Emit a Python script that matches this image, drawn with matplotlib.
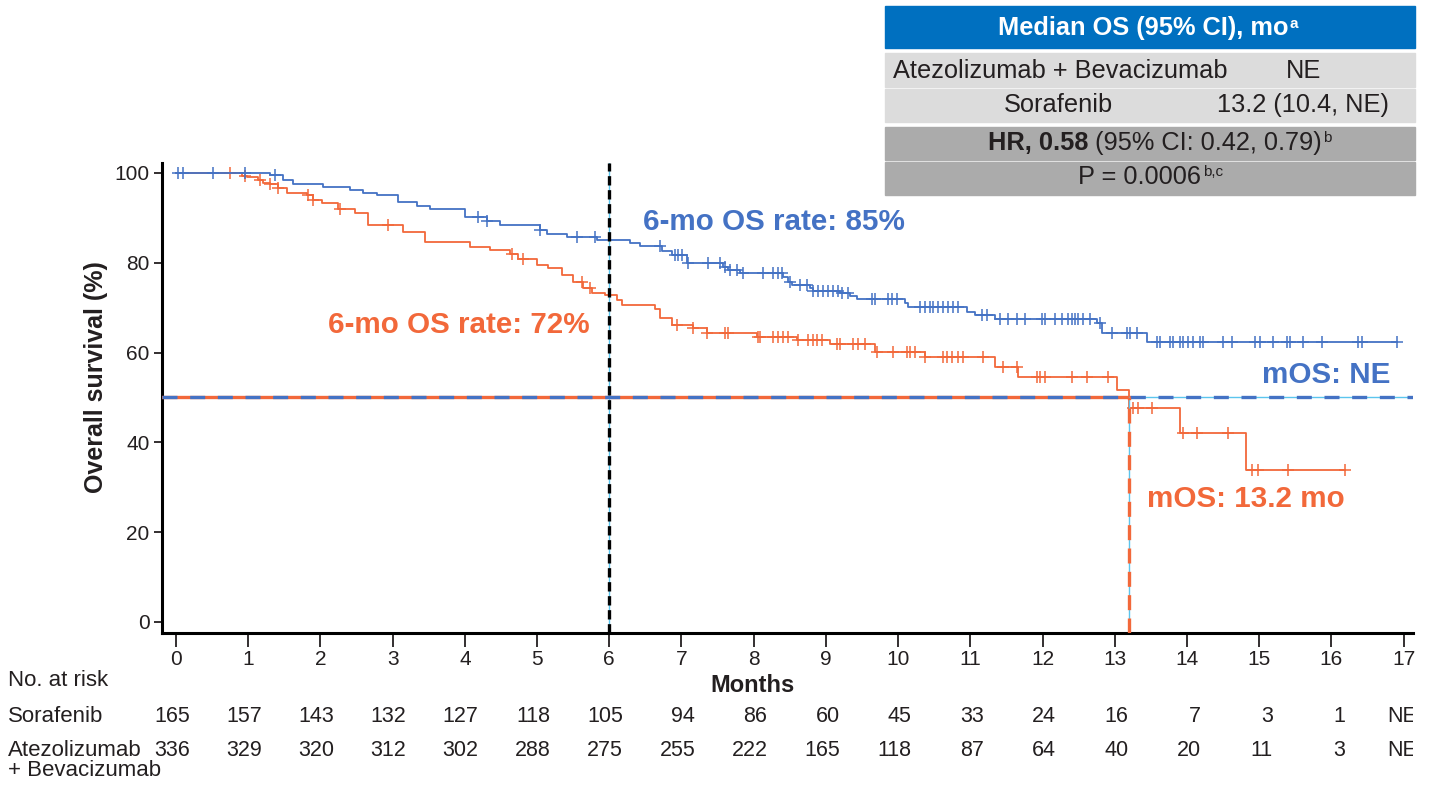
import matplotlib
matplotlib.use('Agg')
import matplotlib.pyplot as plt
from matplotlib.patches import Rectangle
from matplotlib.transforms import blended_transform_factory, Bbox
import numpy as np

plt.rcParams['font.family'] = ['Liberation Sans Narrow', 'Liberation Sans', 'DejaVu Sans']

# Kaplan-Meier steps (months, % surviving)
atezo_t = [0, 1.30, 1.48, 1.62, 2.04, 2.41, 2.59, 2.78, 3.07, 3.34, 3.52, 4.00, 4.31, 4.49,
           5.04, 5.14, 5.42, 5.83, 6.29, 6.43, 6.73, 6.87, 7.08, 7.58, 7.65, 7.81, 8.41, 8.48,
           8.53, 8.78, 8.82, 9.20, 9.34, 9.43, 10.10, 10.14, 10.96, 11.07, 11.34, 12.76, 12.83, 13.45]
atezo_s = [100, 99.5, 98.4, 97.6, 96.9, 96.2, 95.5, 95.1, 93.5, 92.6, 92.0, 90.2, 89.3, 88.4,
           87.3, 86.4, 85.7, 85.1, 84.4, 83.7, 82.6, 81.7, 80.0, 79.1, 78.4, 77.7, 76.8, 75.7,
           75.1, 74.4, 73.7, 73.3, 72.6, 71.9, 71.0, 70.2, 69.0, 68.4, 67.4, 66.6, 64.4, 62.4]
atezo_cens = [0.03, 0.10, 0.51, 0.96, 1.37, 4.18, 4.31, 5.04, 5.55, 5.80,
              6.70, 6.91, 6.95, 7.01, 7.09, 7.37, 7.53, 7.60, 7.67, 7.77, 7.85, 8.13, 8.27, 8.34,
              8.39, 8.50, 8.64, 8.74, 8.82, 8.89, 8.96, 9.03, 9.10, 9.17, 9.22, 9.31, 9.64, 9.68,
              9.86, 9.92, 9.99, 10.30, 10.37, 10.44, 10.48, 10.55, 10.62, 10.69, 10.76, 10.83,
              11.16, 11.23, 11.41, 11.52, 11.65, 11.76, 11.99, 12.04, 12.17, 12.27, 12.35, 12.41,
              12.45, 12.49, 12.56, 12.66, 12.80, 12.96, 13.17, 13.21, 13.31, 13.59, 13.63, 13.77,
              13.81, 13.91, 13.95, 14.02, 14.09, 14.18, 14.22, 14.50, 14.63, 14.94, 15.01, 15.19,
              15.39, 15.43, 15.61, 15.87, 16.37, 16.43, 16.91]

sora_t = [0, 0.91, 0.98, 1.14, 1.20, 1.30, 1.41, 1.54, 1.81, 1.90, 2.02, 2.24, 2.48, 2.66,
          3.14, 3.45, 4.07, 4.35, 4.63, 4.74, 5.00, 5.15, 5.35, 5.50, 5.64, 5.76, 5.94, 6.11,
          6.18, 6.63, 6.70, 6.87, 7.16, 7.35, 8.05, 8.60, 9.06, 9.68, 10.37, 11.34, 11.66,
          13.03, 13.20, 13.91, 14.82]
sora_s = [100, 99.4, 99.0, 98.4, 97.8, 97.5, 96.6, 95.5, 95.1, 94.0, 93.3, 92.0, 91.1, 88.4,
          86.9, 84.6, 83.5, 82.9, 82.0, 80.8, 79.5, 78.8, 77.3, 75.7, 74.4, 73.3, 72.8, 71.7,
          70.6, 69.7, 67.7, 66.1, 65.5, 64.4, 63.5, 62.8, 61.9, 60.1, 59.0, 56.8, 54.6,
          51.7, 47.7, 42.1, 33.9]
sora_cens = [0.75, 0.96, 1.16, 1.30, 1.41, 1.83, 1.90, 2.27, 2.94, 4.65, 4.81, 5.62, 5.73,
             6.94, 7.16, 7.35, 7.60, 7.65, 8.06, 8.09, 8.27, 8.34, 8.41, 8.48, 8.61, 8.75, 8.82,
             8.88, 8.95, 9.16, 9.20, 9.38, 9.45, 9.54, 9.71, 9.93, 10.12, 10.17, 10.24, 10.37,
             10.62, 10.68, 10.75, 10.83, 10.90, 11.18, 11.45, 11.65, 11.93, 11.97, 12.04, 12.41,
             12.62, 12.91, 13.25, 13.32, 13.52, 13.95, 14.14, 14.57, 14.90, 14.99, 15.40, 16.19]

landmark = 6
median_level = 50
median_sora = 13.2

months = list(range(18))
risk_sora = ['165', '157', '143', '132', '127', '118', '105', '94', '86', '60', '45', '33',
             '24', '16', '7', '3', '1', 'NE']
risk_atezo = ['336', '329', '320', '312', '302', '288', '275', '255', '222', '165', '118', '87',
              '64', '40', '20', '11', '3', 'NE']

BLUE = '#4472C4'
ORANGE = '#F2683A'
LIGHTBLUE = '#5BC5EE'
INK = '#231F20'
W, H = 1433, 785


def fx(px):
    return px / W


def fy(py):
    return 1 - py / H


fig = plt.figure(figsize=(W / 100, H / 100), dpi=100)
ax = fig.add_axes([fx(162), fy(633), (1413 - 162) / W, (633 - 163) / H])
ax.patch.set_visible(False)
ax.set_xlim(-0.194, 17.13)
ax.set_ylim(-2.45, 102.2)


def km_line(t, s, cens, color):
    t = np.asarray(t)
    s = np.asarray(s)
    cens = np.asarray(cens)
    tt = np.append(t, cens.max())
    ss = np.append(s, s[-1])
    ax.step(tt, ss, where='post', color=color, lw=1.3, zorder=3)
    cy = s[np.searchsorted(t, cens, side='right') - 1]
    ax.plot(cens, cy, ls='none', marker='+', ms=8, mew=1.1, color=color, zorder=3)


km_line(sora_t, sora_s, sora_cens, ORANGE)
km_line(atezo_t, atezo_s, atezo_cens, BLUE)

# median / landmark reference lines
ax.axhline(median_level, color=LIGHTBLUE, lw=1.0, zorder=4)
ax.plot([-0.194, median_sora], [median_level, median_level], color=ORANGE, lw=2.4, zorder=4)
ax.axhline(median_level, color=BLUE, lw=2.4, dashes=(4.5, 3.8), zorder=5)
ax.plot([median_sora, median_sora], [-2.45, median_level], color=LIGHTBLUE, lw=1.0, zorder=4)
ax.plot([median_sora, median_sora], [-2.45, median_level], color=ORANGE, lw=2.4,
        dashes=(4.5, 2.5), zorder=5)
ax.axvline(landmark, color=LIGHTBLUE, lw=1.0, zorder=4)
ax.axvline(landmark, color='black', lw=2.4, dashes=(2.8, 1.4), zorder=5)

afam = ['Liberation Sans', 'DejaVu Sans']
ax.text(6.47, 89.1, '6-mo OS rate: 85%', color=BLUE, fontsize=21.3, fontweight='bold',
        family=afam, ha='left', va='center')
ax.text(5.73, 66.1, '6-mo OS rate: 72%', color=ORANGE, fontsize=21.3, fontweight='bold',
        family=afam, ha='right', va='center')
ax.text(16.81, 55.0, 'mOS: NE', color=BLUE, fontsize=21.3, fontweight='bold',
        family=afam, ha='right', va='center')
ax.text(13.45, 27.4, 'mOS: 13.2 mo', color=ORANGE, fontsize=21.3, fontweight='bold',
        family=afam, ha='left', va='center')

for side in ['top', 'right']:
    ax.spines[side].set_visible(False)
for side in ['left', 'bottom']:
    ax.spines[side].set_linewidth(2.2)
ax.set_xticks(months)
ax.set_yticks([0, 20, 40, 60, 80, 100])
ax.tick_params(axis='x', length=10, width=1.3, labelsize=15, pad=2, colors=INK)
ax.tick_params(axis='y', length=6, width=1.3, labelsize=15, pad=3, colors=INK)

ax.set_ylabel('Overall survival (%)', fontsize=18, fontweight='bold', va='center', ha='center',
              color=INK)
ax.yaxis.set_label_coords((96 - 162) / 1251, (633 - 377) / 470)
ax.set_xlabel('Months', fontsize=17, fontweight='bold', va='center', ha='center', color=INK)
ax.xaxis.set_label_coords((753 - 162) / 1251, (633 - 686) / 470)

# number at risk
tr = blended_transform_factory(ax.transData, fig.transFigure)
clip = Bbox.from_extents(0, 0, 1413, H)
fig.text(fx(8), fy(680), 'No. at risk', fontsize=16, va='center', ha='left', color=INK)
fig.text(fx(8), fy(717), 'Sorafenib', fontsize=16, va='center', ha='left', color=INK)
fig.text(fx(8), fy(750), 'Atezolizumab', fontsize=16, va='center', ha='left', color=INK)
fig.text(fx(8), fy(771), '+ Bevacizumab', fontsize=16, va='center', ha='left', color=INK)
for m, a, b in zip(months, risk_sora, risk_atezo):
    for lab, yy in [(a, 717), (b, 750)]:
        t = ax.text(m + 0.19, fy(yy), lab, transform=tr, fontsize=15.5, va='center', ha='right',
                    clip_on=True, color=INK)
        t.set_clip_box(clip)

# median OS box
rows = [(6, 48, '#0070C0'), (53, 87, '#DCDCDC'), (89, 122, '#DCDCDC'),
        (127, 160, '#ABABAB'), (162, 195, '#ABABAB')]
for y0, y1, c in rows:
    fig.patches.append(Rectangle((fx(885), fy(y1)), (1415 - 885) / W, (y1 - y0) / H,
                                 transform=fig.transFigure, color=c, zorder=-1))
TS = 18.3
hdr = fig.text(fx(1143), fy(28), 'Median OS (95% CI), mo', color='white', fontsize=TS,
               fontweight='bold', family=afam, ha='center', va='center')
ax.annotate('a', xy=(1, 1), xycoords=hdr, xytext=(1, -1), textcoords='offset points',
            color='white', fontsize=11, fontweight='bold', family=afam, ha='left', va='top')
fig.text(fx(893), fy(71), 'Atezolizumab + Bevacizumab', fontsize=TS, family=afam,
         ha='left', va='center', color=INK)
fig.text(fx(1304), fy(71), 'NE', fontsize=TS, family=afam, ha='center', va='center',
         color=INK)
fig.text(fx(1058), fy(105), 'Sorafenib', fontsize=TS, family=afam, ha='center', va='center',
         color=INK)
fig.text(fx(1303), fy(105), '13.2 (10.4, NE)', fontsize=TS, family=afam, ha='center',
         va='center', color=INK)
hr = fig.text(fx(1088), fy(143), 'HR, 0.58', fontsize=TS, fontweight='bold', family=afam,
              ha='right', va='center', color=INK)
ci = ax.annotate('(95% CI: 0.42, 0.79)', xy=(1, 0.5), xycoords=hr, xytext=(5, 0),
                 textcoords='offset points', fontsize=TS, family=afam, ha='left', va='center',
                 color=INK)
ax.annotate('b', xy=(1, 1), xycoords=ci, xytext=(1, 0), textcoords='offset points',
            fontsize=11, family=afam, ha='left', va='top', color=INK)
pv = fig.text(fx(1140), fy(177), 'P = 0.0006', fontsize=TS, family=afam, ha='center',
              va='center', color=INK)
ax.annotate('b,c', xy=(1, 1), xycoords=pv, xytext=(1, 0), textcoords='offset points',
            fontsize=11, family=afam, ha='left', va='top', color=INK)

fig.savefig('out.png', dpi=100)
